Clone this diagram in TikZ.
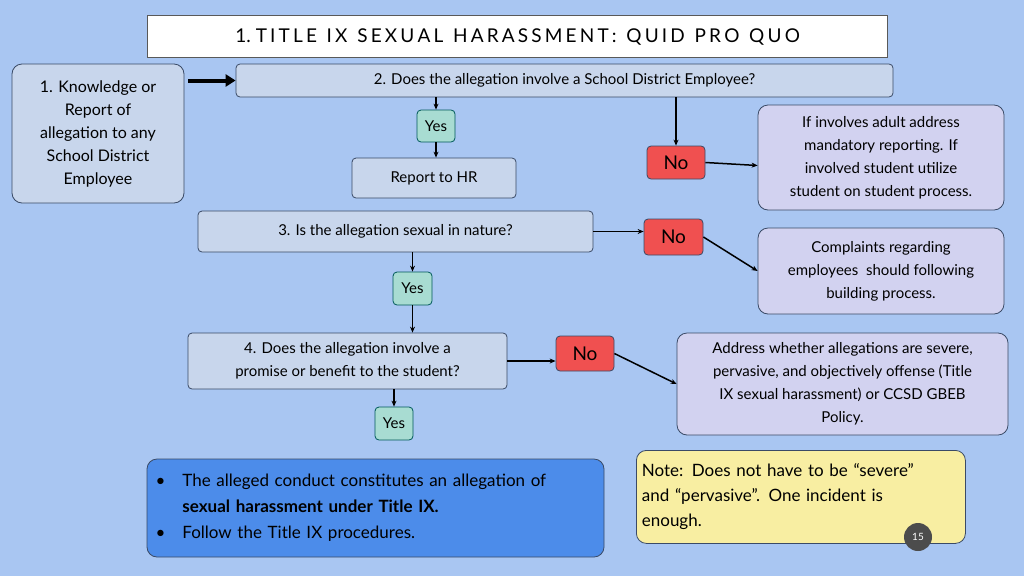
\documentclass[tikz,border=0pt]{standalone}
\usepackage{fontspec}
\setmainfont{Lato}
\usetikzlibrary{arrows.meta}
\definecolor{bg}{HTML}{A9C6F2}
\definecolor{boxb}{HTML}{C8D6EC}
\definecolor{lav}{HTML}{D2D2F0}
\definecolor{yesc}{HTML}{A8DCD2}
\definecolor{noc}{HTML}{F05050}
\definecolor{bluebox}{HTML}{4C8CEA}
\definecolor{notec}{HTML}{F8EEA2}
\definecolor{edge}{HTML}{3A4A66}
\begin{document}
\begin{tikzpicture}[x=1pt,y=-1pt,
  base/.style={draw=edge,line width=0.8pt,rounded corners=4pt,align=center,inner sep=2pt,font=\fontsize{15}{20}\selectfont},
  qbox/.style={base,fill=boxb},
  lbox/.style={base,fill=lav},
  yesbox/.style={base,fill=yesc,draw=teal!70!black},
  nobox/.style={base,fill=noc,font=\fontsize{19}{22}\selectfont},
  arr/.style={-{Stealth[length=6pt,width=5pt]},line width=1.5pt,black}]
\fill[bg] (0,0) rectangle (1024,576);
\useasboundingbox (0,0) rectangle (1024,576);
\node[draw=gray!70!black,line width=1.2pt,fill=white,minimum width=740pt,minimum height=42pt,font=\fontsize{19}{22}\selectfont,anchor=north west] (title) at (147,15) {1.\ T\,I\,T\,L\,E\ \ I\,X\ \ S\,E\,X\,U\,A\,L\ \ H\,A\,R\,A\,S\,S\,M\,E\,N\,T\,:\ \ Q\,U\,I\,D\ \ P\,R\,O\ \ Q\,U\,O};
\node[qbox,minimum width=172pt,minimum height=139pt,rounded corners=10pt,font=\fontsize{16}{23}\selectfont] (k) at (98,133.5) {1. Knowledge or\\Report of\\allegation to any\\School District\\Employee};
\node[qbox,minimum width=657pt,minimum height=33pt] (q2) at (564.5,80.5) {2. Does the allegation involve a School District Employee?};
\node[yesbox,minimum width=38pt,minimum height=32pt] (y1) at (436,126) {Yes};
\node[qbox,minimum width=164pt,minimum height=40pt] (hr) at (434,178) {Report to HR};
\node[nobox,minimum width=58pt,minimum height=33pt] (n1) at (676,162.5) {No};
\node[lbox,minimum width=246pt,minimum height=105pt,rounded corners=10pt,font=\fontsize{15}{23}\selectfont] (r1) at (881,157.5) {If involves adult address\\mandatory reporting. If\\involved student utilize\\student on student process.};
\node[qbox,minimum width=395pt,minimum height=41pt] (q3) at (395.5,231.5) {3. Is the allegation sexual in nature?};
\node[nobox,minimum width=59pt,minimum height=36pt] (n2) at (673.5,237) {No};
\node[lbox,minimum width=246pt,minimum height=86pt,rounded corners=10pt,font=\fontsize{15}{23}\selectfont] (r2) at (881,271) {Complaints regarding\\employees\ \ should following\\building process.};
\node[yesbox,minimum width=39pt,minimum height=33pt] (y2) at (412.5,288.5) {Yes};
\node[qbox,minimum width=319pt,minimum height=56pt,font=\fontsize{15}{23}\selectfont] (q4) at (347.5,361) {4. Does the allegation involve a\\promise or benefit to the student?};
\node[nobox,minimum width=58pt,minimum height=35pt] (n3) at (585,353.5) {No};
\node[lbox,minimum width=331pt,minimum height=102pt,rounded corners=10pt,font=\fontsize{15}{23}\selectfont] (r3) at (842.5,384) {Address whether allegations are severe,\\pervasive, and objectively offense (Title\\IX sexual harassment) or CCSD GBEB\\Policy.};
\node[yesbox,minimum width=38pt,minimum height=33pt] (y3) at (394,423.5) {Yes};
\node[base,fill=bluebox,minimum width=457pt,minimum height=98pt,rounded corners=10pt,align=left,font=\fontsize{17}{26}\selectfont,text width=440pt] (c) at (375.5,508) {\textbullet\quad The alleged conduct constitutes an allegation of\\\phantom{\textbullet}\quad\textbf{sexual harassment under Title IX.}\\\textbullet\quad Follow the Title IX procedures.};
\node[base,fill=notec,minimum width=329pt,minimum height=93pt,rounded corners=10pt,align=left,font=\fontsize{17}{25}\selectfont,anchor=north west,text width=318pt,inner sep=5pt] (note) at (636,450) {Note: Does not have to be “severe”\\and “pervasive”. One incident is\\enough.};
\node[circle,fill=gray!60!black,text=white,minimum size=28pt,inner sep=0pt,font=\fontsize{10}{12}\selectfont] (pg) at (918,537) {15};
\draw[-{Triangle[length=10pt,width=12pt]},line width=4pt] (k.north east|-q2) ++(4,0) coordinate (ks) -- (q2.west);
\draw[arr] (q2.south-|y1) -- (y1);
\draw[arr] (y1) -- (hr.north-|y1);
\draw[arr] (q2.south-|n1) -- (n1);
\draw[arr] (n1.east) -- ([yshift=-3pt]r1.west|-n1.east);
\draw[arr] (q3.east) -- (n2.west|-q3.east);
\draw[arr] (n2.east) -- (r2.west);
\draw[arr] (q3.south-|y2) -- (y2);
\draw[arr] (y2) -- (q4.north-|y2);
\draw[arr] (q4.east) -- (n3.west|-q4.east);
\draw[arr] (n3.east) -- (r3.west);
\draw[arr] (q4.south-|y3) -- (y3);
\end{tikzpicture}
\end{document}
